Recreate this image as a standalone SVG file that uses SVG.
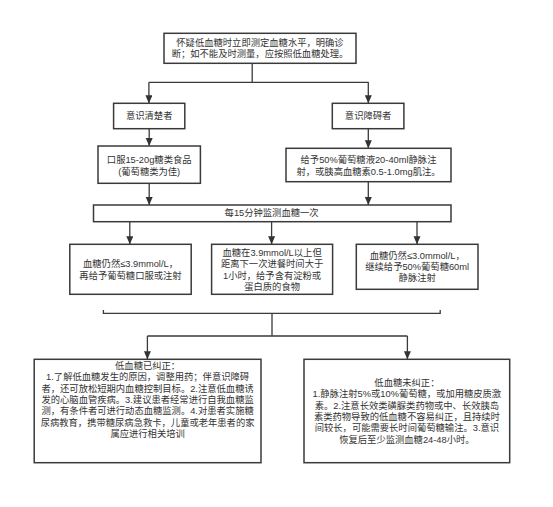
<svg xmlns="http://www.w3.org/2000/svg" width="553" height="507" viewBox="0 0 553 507">
<style>
.box{fill:#fff;stroke:#3a3a3a;stroke-width:1.5}
.t{font-family:"Liberation Sans","Noto Sans CJK SC",sans-serif;font-size:9.3px;fill:#333;text-anchor:middle;dominant-baseline:central}
.c{fill:none;stroke:#3a3a3a;stroke-width:1.3}
</style>
<defs>
<marker id="ah" markerUnits="userSpaceOnUse" markerWidth="8" markerHeight="9" refX="8" refY="3.5" orient="auto"><path d="M0,0 L8,3.5 L0,7 z" fill="#333"/></marker>
</defs>
<rect width="553" height="507" fill="#fff"/>
<g id="connectors">
<path class="c" d="M252.2,63.3 V82.3 M148.9,82.3 H368.6"/>
<path class="c" d="M148.9,82.3 V103.3" marker-end="url(#ah)"/>
<path class="c" d="M368.3,82.3 V103.3" marker-end="url(#ah)"/>
<path class="c" d="M149.2,128.7 V146" marker-end="url(#ah)"/>
<path class="c" d="M368.3,128.7 V148.3" marker-end="url(#ah)"/>
<path class="c" d="M149.2,183.3 V205" marker-end="url(#ah)"/>
<path class="c" d="M368.3,181.7 V205" marker-end="url(#ah)"/>
<path class="c" d="M129.8,221.7 V244.3" marker-end="url(#ah)"/>
<path class="c" d="M271.6,221.7 V244.3" marker-end="url(#ah)"/>
<path class="c" d="M417,221.7 V244.3" marker-end="url(#ah)"/>
<path class="c" d="M103.4,310 V313.3 H440.2 V310 M272,313.3 V336 M147.4,336 H407.4"/>
<path class="c" d="M147.4,336 V359.3" marker-end="url(#ah)"/>
<path class="c" d="M407.4,336 V359.3" marker-end="url(#ah)"/>
</g>
<g id="n-start">
<rect class="box" x="164" y="33.3" width="192" height="30"/>
<text class="t" x="260" y="43.3">怀疑低血糖时立即测定血糖水平，明确诊</text>
<text class="t" x="260" y="54.3">断；如不能及时测量，应按照低血糖处理。</text>
</g>
<g id="n-conscious">
<rect class="box" x="113.6" y="103.3" width="71.2" height="25.4"/>
<text class="t" x="149.2" y="116">意识清楚者</text>
</g>
<g id="n-impaired">
<rect class="box" x="332.3" y="103.3" width="71.6" height="25.4"/>
<text class="t" x="368.1" y="116">意识障碍者</text>
</g>
<g id="n-oral">
<rect class="box" x="98" y="146" width="102.4" height="37.3"/>
<text class="t" x="149.2" y="160">口服15-20g糖类食品</text>
<text class="t" x="149.2" y="171.7">(葡萄糖类为佳)</text>
</g>
<g id="n-iv">
<rect class="box" x="286" y="148.3" width="165" height="33.4"/>
<text class="t" x="368.5" y="160">给予50%葡萄糖液20-40ml静脉注</text>
<text class="t" x="368.5" y="171.7">射，或胰高血糖素0.5-1.0mg肌注。</text>
</g>
<g id="n-monitor">
<rect class="box" x="93.5" y="205" width="357.5" height="16.7"/>
<text class="t" x="271.6" y="213.3">每15分钟监测血糖一次</text>
</g>
<g id="n-low39">
<rect class="box" x="69.8" y="244.3" width="121.4" height="50"/>
<text class="t" x="130.5" y="264.3">血糖仍然≤3.9mmol/L，</text>
<text class="t" x="130.5" y="276">再给予葡萄糖口服或注射</text>
</g>
<g id="n-above39">
<rect class="box" x="211.6" y="244.3" width="121" height="50"/>
<text class="t" x="272.1" y="253.3">血糖在3.9mmol/L以上但</text>
<text class="t" x="272.1" y="264.4">距离下一次进餐时间大于</text>
<text class="t" x="272.1" y="275.5">1小时，给予含有淀粉或</text>
<text class="t" x="272.1" y="286.6">蛋白质的食物</text>
</g>
<g id="n-low30">
<rect class="box" x="356.3" y="244.3" width="121.7" height="45"/>
<text class="t" x="417.2" y="256">血糖仍然≤3.0mmol/L，</text>
<text class="t" x="417.2" y="267.1">继续给予50%葡萄糖60ml</text>
<text class="t" x="417.2" y="278.3">静脉注射</text>
</g>
<g id="n-corrected">
<rect class="box" x="34.2" y="359.3" width="226.8" height="103.4"/>
<text class="t" x="147.6" y="366">低血糖已纠正：</text>
<text class="t" x="147.6" y="377.3">1.了解低血糖发生的原因，调整用药；伴意识障碍</text>
<text class="t" x="147.6" y="388.6">者，还可放松短期内血糖控制目标。2.注意低血糖诱</text>
<text class="t" x="147.6" y="399.9">发的心脑血管疾病。3.建议患者经常进行自我血糖监</text>
<text class="t" x="147.6" y="411.2">测，有条件者可进行动态血糖监测。4.对患者实施糖</text>
<text class="t" x="147.6" y="422.5">尿病教育，携带糖尿病急救卡，儿童或老年患者的家</text>
<text class="t" x="147.6" y="433.8">属应进行相关培训</text>
</g>
<g id="n-uncorrected">
<rect class="box" x="304" y="359.3" width="205.7" height="103.4"/>
<text class="t" x="406.9" y="382.7">低血糖未纠正：</text>
<text class="t" x="406.9" y="394.1">1.静脉注射5%或10%葡萄糖，或加用糖皮质激</text>
<text class="t" x="406.9" y="405.5">素。2.注意长效类磺脲类药物或中、长效胰岛</text>
<text class="t" x="406.9" y="416.9">素类药物导致的低血糖不容易纠正，且持续时</text>
<text class="t" x="406.9" y="428.3">间较长，可能需要长时间葡萄糖输注。3.意识</text>
<text class="t" x="406.9" y="439.7">恢复后至少监测血糖24-48小时。</text>
</g>
</svg>
